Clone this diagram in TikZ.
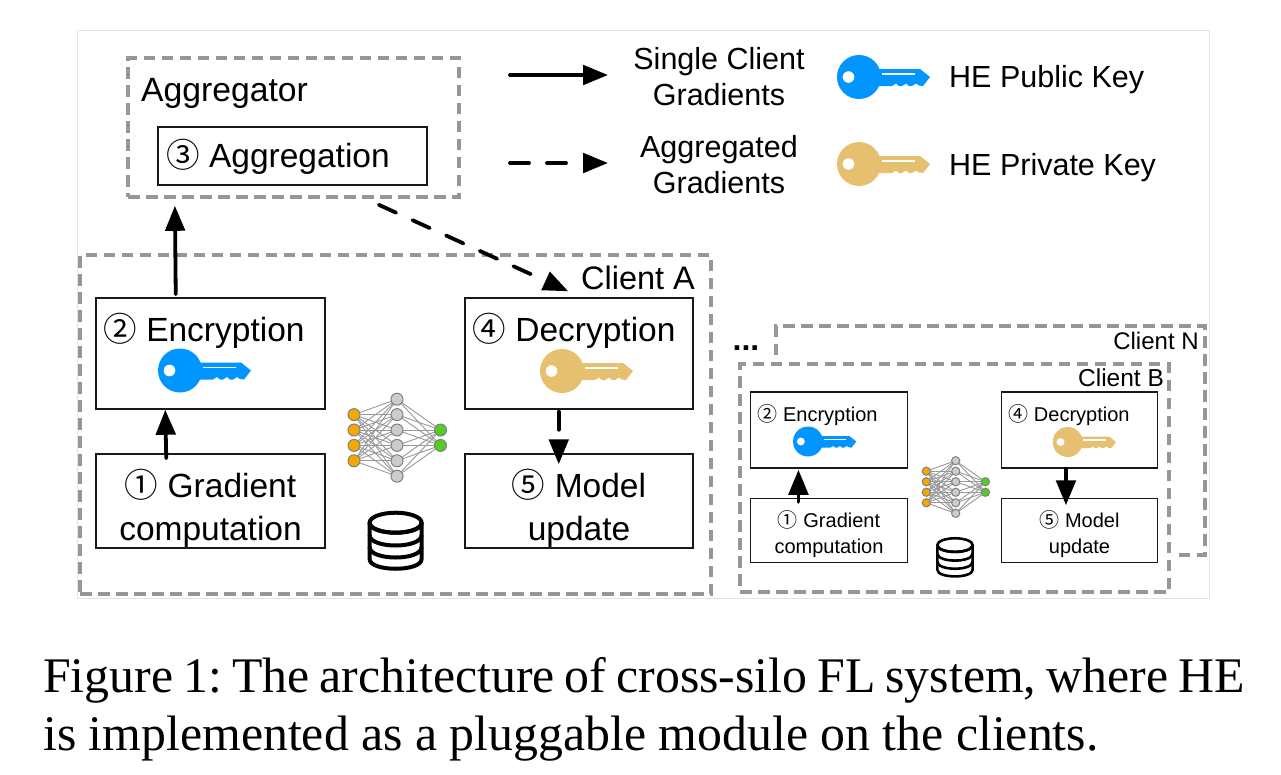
\documentclass[tikz,border=0pt]{standalone}
\usepackage{fontspec}
\setmainfont{Liberation Sans}
\newfontfamily\capfont{Liberation Serif}
\newfontfamily\circfont{Noto Sans CJK SC}
\usetikzlibrary{arrows.meta,calc}
\definecolor{dashgray}{HTML}{969696}
\definecolor{keyblue}{HTML}{0095FF}
\definecolor{keygold}{HTML}{E6C06F}
\newcommand{\cnum}[1]{{\circfont #1}}
\newcommand{\fs}[1]{\fontsize{#1}{#1}\selectfont}
\tikzset{
  x=1pt,y=-1pt,
  box/.style={draw=black!90,line width=1.5pt,fill=white,inner sep=0pt,align=center},
  big/.style={font=\fontsize{33.5}{43}\selectfont},
  small/.style={font=\fontsize{20}{26}\selectfont},
  txt/.style={inner sep=0pt,align=center},
  silo/.style={draw=dashgray,line width=3.6pt,dash pattern=on 11.5pt off 6.5pt},
  flow/.style={line width=3.8pt,line cap=round,-{Triangle[length=25pt,width=19.5pt]}},
  dflow/.style={flow,dash pattern=on 19pt off 18pt},
  pics/key/.style={code={
    \fill[#1] (0,0) circle (22);
    \fill[#1] (15,-8) -- (61,-8) -- (71,0) -- (64,9) -- (60,8.5) -- (57,6.5) -- (53,9) -- (50,9) -- (47,6.5) -- (43,9) -- (40,9) -- (37,6.5) -- (33,9) -- (15,9) -- cycle;
    \fill[white] (-10.5,0) circle (5.8);
    \fill[white] (23,-3.7) rectangle (56,-2.2);
  }},
  pics/nnet/.style={code={
    \foreach \a in {-23.1,-7.7,7.7,23.1}
      \foreach \b in {-38.5,-23.1,-7.7,7.7,23.1,38.5}
        \draw[gray!80,line width=.9pt] (-43,\a) -- (0,\b);
    \foreach \b in {-38.5,-23.1,-7.7,7.7,23.1,38.5}
      \foreach \c in {-7.7,7.7}
        \draw[gray!80,line width=.9pt] (0,\b) -- (43.5,\c);
    \foreach \a in {-23.1,-7.7,7.7,23.1}
      \filldraw[draw=gray,fill={rgb,255:red,245;green,168;blue,0},line width=1pt] (-43,\a) circle (6);
    \foreach \b in {-38.5,-23.1,-7.7,7.7,23.1,38.5}
      \filldraw[draw=gray,fill=gray!40,line width=1pt] (0,\b) circle (6);
    \foreach \c in {-7.7,7.7}
      \filldraw[draw=gray,fill={rgb,255:red,85;green,204;blue,34},line width=1pt] (43.5,\c) circle (6);
  }},
  pics/dbase/.style={code={
    \begin{scope}[line width=#1,draw=black]
    \draw (0,-18.3) ellipse (26 and 10);
    \draw (-26,-18.3) -- (-26,18) .. controls (-26,31) and (26,31) .. (26,18) -- (26,-18.3);
    \draw (-26,-18.3) .. controls (-26,-5) and (26,-5) .. (26,-18.3);
    \draw (-26,-6) .. controls (-26,8) and (26,8) .. (26,-6);
    \draw (-26,6) .. controls (-26,20) and (26,20) .. (26,6);
    \end{scope}
  }},
}
\begin{document}
\begin{tikzpicture}
\useasboundingbox (0,0) rectangle (1281,774);
\fill[white] (0,0) rectangle (1281,774);
\node[draw=black!10,line width=1pt,fill=white,inner sep=0pt,minimum width=1132pt,minimum height=568pt] (frame) at (643,314) {};

% dashed silos
\node[silo,inner sep=0pt,minimum width=331pt,minimum height=139pt] (agg) at (293.5,127.5) {};
\node[silo,inner sep=0pt,minimum width=631pt,minimum height=339pt] (clientA) at (395.5,424.5) {};
\coordinate (nStart) at (776,355);
\coordinate (nTL) at (776,326);
\coordinate (nTR) at (1205,326);
\coordinate (nBR) at (1205,555);
\coordinate (nEnd) at (1172,555);
\draw[silo] (nStart) -- (nTL) -- (nTR) -- (nBR) -- (nEnd);
\node[silo,inner sep=0pt,minimum width=429pt,minimum height=228pt] (clientB) at (954.5,478) {};

\node[txt,font=\fs{33.7}] (aggT) at (224.5,93) {Aggregator};
\node[box,minimum width=269pt,minimum height=58pt] (aggr) at (292.5,156) {};
\node[txt,big,anchor=base] (aggrT) at (278,167) {\cnum{③} Aggregation};

% client A boxes
\node[box,minimum width=229pt,minimum height=111pt] (encA) at (210.5,353.5) {};
\node[box,minimum width=228pt,minimum height=111pt] (decA) at (579,353.5) {};
\node[box,minimum width=229pt,minimum height=94pt] (gradA) at (210.5,501) {};
\node[box,minimum width=228pt,minimum height=94pt] (modA) at (579,501) {};
\node[txt,big,anchor=base] (gradAT) at (210.5,497) {\cnum{①} Gradient};
\node[txt,big,anchor=base] (gradAU) at (210.5,540) {computation};
\node[txt,big,anchor=base] (modAT) at (579,497) {\cnum{⑤} Model};
\node[txt,big,anchor=base] (modAU) at (579,540) {update};
\node[txt,big,anchor=base] (encAT) at (204,341) {\cnum{②} Encryption};
\node[txt,big,anchor=base] (decAT) at (574,341) {\cnum{④} Decryption};
\node[txt,font=\fs{32.5}] (cA) at (638,278) {Client A};

% client B boxes
\node[box,minimum width=157pt,minimum height=76pt] (encB) at (829,430) {};
\node[box,minimum width=156pt,minimum height=76pt] (decB) at (1079.5,430) {};
\node[box,minimum width=157pt,minimum height=64pt] (gradB) at (829,530.5) {};
\node[box,minimum width=156pt,minimum height=64pt] (modB) at (1079.5,530.5) {};
\node[txt,small,anchor=base] (gradBT) at (829,527.5) {\cnum{①} Gradient};
\node[txt,small,anchor=base] (gradBU) at (829,553) {computation};
\node[txt,small,anchor=base] (modBT) at (1079.5,527.5) {\cnum{⑤} Model};
\node[txt,small,anchor=base] (modBU) at (1079.5,553) {update};
\node[txt,small,anchor=base] (encBT) at (817.5,421.5) {\cnum{②} Encryption};
\node[txt,small,anchor=base] (decBT) at (1069,421.5) {\cnum{④} Decryption};
\node[txt,font=\fs{24.5}] (cB) at (1121,378) {Client B};
\node[txt,font=\fs{24}] (cN) at (1156,341) {Client N};
\node[txt,font=\bfseries\fs{32}] (dots) at (746,348) {...};

% keys
\pic at (180,370.5) {key=keyblue};
\pic at (562,371) {key=keygold};
\pic[scale=.68] at (808,441.5) {key=keyblue};
\pic[scale=.68] at (1067.7,442) {key=keygold};
\pic at (859,77) {key=keyblue};
\pic at (859,164) {key=keygold};

% nets and databases
\pic at (397,437.7) {nnet};
\pic[scale=.684] at (955.7,487) {nnet};
\pic at (395.6,541) {dbase=4pt};
\pic[scale=.68] at (955,557.5) {dbase=2.6pt};

% legend
\node[txt,font=\fontsize{30.5}{36}\selectfont] (lg1) at (719,77) {Single Client\\Gradients};
\node[txt,font=\fontsize{30.5}{36}\selectfont] (lg2) at (719,165) {Aggregated\\Gradients};
\node[txt,font=\fs{30.5},anchor=west] (pub) at (949,80) {HE Public Key};
\node[txt,font=\fs{30.5},anchor=west] (prv) at (949,168) {HE Private Key};
\coordinate (l1a) at (510,75);
\coordinate (l1b) at (608,75);
\coordinate (l2a) at (510,163);
\coordinate (l2b) at (608,163);
\draw[flow] (l1a) -- (l1b);
\draw[dflow] (l2a) -- (l2b);

% connectors
\coordinate (e1) at ($(encA.north west)+(80.5,-3)$);
\coordinate (e2) at ($(agg.south west)+(48.7,7)$);
\draw[flow] (e1) -- (e2);
\coordinate (g1) at ($(gradA.north west)+(71,5)$);
\coordinate (g1t) at ($(encA.south west)+(70,0)$);
\draw[flow] (g1) -- (g1t);
\coordinate (a1) at ($(agg.south east)+(-82,6)$);
\coordinate (d0) at ($(decA.north west)+(104,-6)$);
\draw[dflow] (a1) -- (d0);
\coordinate (d1) at ($(decA.south west)+(94.5,2)$);
\coordinate (m1) at ($(modA.north west)+(94.5,11)$);
\draw[flow,dash pattern=on 18pt off 16pt] (d1) -- (m1);
\coordinate (g2) at ($(gradB.north west)+(48.7,4)$);
\coordinate (g2t) at ($(encB.south west)+(48.7,1)$);
\draw[flow] (g2) -- (g2t);
\coordinate (d2) at ($(decB.south west)+(65.2,0)$);
\coordinate (m2) at ($(modB.north west)+(65.2,7.5)$);
\draw[flow] (d2) -- (m2);

% caption
\node[anchor=base west,inner sep=0pt,font=\capfont\fs{49.8}] (cap1) at (43,692) {\frenchspacing\spaceskip=10.1pt Figure 1: The architecture of cross-silo FL system, where HE};
\node[anchor=base west,inner sep=0pt,font=\capfont\fs{49.8}] (cap2) at (43,750) {is implemented as a pluggable module on the clients.};
\end{tikzpicture}
\end{document}
